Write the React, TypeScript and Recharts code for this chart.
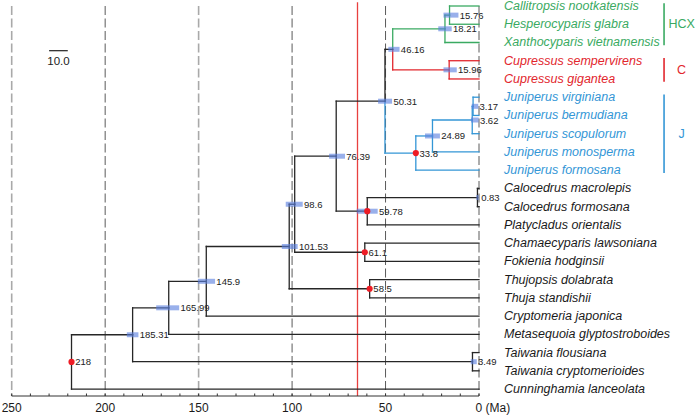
import React from "react"
import { ComposedChart, XAxis, YAxis, Scatter, ReferenceLine, ReferenceDot } from "recharts"

// tips, top to bottom
const taxa = [
  "Callitropsis nootkatensis",
  "Hesperocyparis glabra",
  "Xanthocyparis vietnamensis",
  "Cupressus sempervirens",
  "Cupressus gigantea",
  "Juniperus virginiana",
  "Juniperus bermudiana",
  "Juniperus scopulorum",
  "Juniperus monosperma",
  "Juniperus formosana",
  "Calocedrus macrolepis",
  "Calocedrus formosana",
  "Platycladus orientalis",
  "Chamaecyparis lawsoniana",
  "Fokienia hodginsii",
  "Thujopsis dolabrata",
  "Thuja standishii",
  "Cryptomeria japonica",
  "Metasequoia glyptostroboides",
  "Taiwania flousiana",
  "Taiwania cryptomerioides",
  "Cunninghamia lanceolata",
]
const taxonClade = ["HCX", "HCX", "HCX", "C", "C", "J", "J", "J", "J", "J", "", "", "", "", "", "", "", "", "", "", "", ""]

const clades = ["HCX", "C", "J"]
const cladeColors = ["#3aaa62", "#e2262d", "#3396d6"]

// internal nodes, children listed before parents (numbers = tip index)
const nodeIds = ["a", "b", "c", "d", "e", "f", "g", "h", "i", "j", "k", "l", "m", "n", "o", "p", "q", "r", "s", "t", "u"]
const nodeAges = [15.76, 18.21, 15.96, 46.16, 3.17, 3.62, 24.89, 33.8, 50.31, 0.83, 59.78, 76.39, 61.1, 98.6, 58.5, 101.53, 145.9, 165.99, 3.49, 185.31, 218]
const nodeKids: (number | string)[][] = [
  [0, 1], ["a", 2], [3, 4], ["b", "c"], [5, 6], ["e", 7], ["f", 8], ["g", 9], ["d", "h"],
  [10, 11], ["j", 12], ["i", "k"], [13, 14], ["l", "m"], [15, 16], ["n", "o"], ["p", 17],
  ["q", 18], [19, 20], ["r", "s"], ["t", 21],
]
// 95% HPD interval (older, younger), null where none is drawn
const hpdOld = [19, 21.8, 19, 48.5, 3.9, 4.3, 28.9, null, 54, 1.4, 65.4, 80.2, null, 103.4, null, 105.5, 150.4, 172.7, 4.4, 188.4, null]
const hpdYoung = [11, 14.6, 11.9, 42.5, 0.4, 0.2, 20.9, null, 46.5, 0.2, 54.2, 71.7, null, 94.3, null, 97, 141.2, 160.4, 1.2, 182.2, null]
const calibrated = ["h", "k", "m", "o", "u"]

const xTicks = [250, 240, 230, 220, 210, 200, 190, 180, 170, 160, 150, 140, 130, 120, 110, 100, 90, 80, 70, 60, 50, 40, 30, 20, 10, 0]
const gridAges = [250, 200, 150, 100, 50, 0]
const kpgAge = 65
const scaleBar = 10

const W = 697
const H = 416
const ML = 11.7
const MR = 218
const PX_PER_MA = (W - ML - MR) / 250
const FONT = "'Liberation Sans', Arial, Helvetica, sans-serif"
const BRANCH = "#262626"

const nodeY: Record<string, number> = {}
const yOf = (k: number | string) => (typeof k === "number" ? k : nodeY[k])
nodeIds.forEach((id, i) => {
  nodeY[id] = (yOf(nodeKids[i][0]) + yOf(nodeKids[i][1])) / 2
})
const ageOf = (k: number | string) => (typeof k === "number" ? 0 : nodeAges[nodeIds.indexOf(k)])
const tipsUnder = (k: number | string): number[] =>
  typeof k === "number" ? [k] : nodeKids[nodeIds.indexOf(k)].flatMap(tipsUnder)
const colorOf = (k: number | string) => {
  const set = Array.from(new Set(tipsUnder(k).map((t) => taxonClade[t])))
  if (set.length === 1 && set[0]) return cladeColors[clades.indexOf(set[0])]
  return BRANCH
}

const branches = nodeIds.flatMap((id, i) =>
  nodeKids[i].flatMap((k) => {
    const a = nodeAges[i]
    const y0 = nodeY[id]
    const y1 = yOf(k)
    const c = colorOf(k)
    return [
      { seg: [{ x: a, y: y0 }, { x: a, y: y1 }], c },
      { seg: [{ x: a, y: y1 }, { x: ageOf(k), y: y1 }], c },
    ]
  })
)

const tipData = taxa.map((name, i) => ({
  x: 0,
  y: i,
  name,
  color: taxonClade[i] ? cladeColors[clades.indexOf(taxonClade[i])] : "#1a1a1a",
}))

const nodeLabelData = nodeIds.map((id, i) => ({
  x: nodeAges[i],
  y: nodeY[id],
  text: String(nodeAges[i]),
  dx: Math.max(3.7, hpdYoung[i] != null ? (nodeAges[i] - (hpdYoung[i] as number)) * PX_PER_MA + 1.3 : 0),
}))

const calData = calibrated.map((id) => ({ x: nodeAges[nodeIds.indexOf(id)], y: nodeY[id] }))

const cladeSpans = clades.map((c) => {
  const idx = taxonClade.map((t, i) => (t === c ? i : -1)).filter((i) => i >= 0)
  return { c, top: idx[0] - 0.15, bottom: idx[idx.length - 1] + 0.15 }
})

const AgeTick = (props: any) => {
  const { x, y, payload } = props
  const v = payload.value
  return (
    <g>
      <line x1={x} x2={x} y1={y} y2={y - 2.5} stroke="#333" />
      {v % 50 === 0 && (
        <text
          x={v === 0 ? x - 3.5 : x}
          y={y + 12}
          textAnchor={v === 0 ? "start" : "middle"}
          dominantBaseline="central"
          fontSize={12}
          fontFamily={FONT}
          fill="#1a1a1a"
        >
          {v === 0 ? "0 (Ma)" : v}
        </text>
      )}
    </g>
  )
}

const TipLabel = (p: any) => (
  <text x={p.cx + 25} y={p.cy} dominantBaseline="central" fontSize={12.5} fontStyle="italic" fontFamily={FONT} fill={p.payload.color}>
    {p.payload.name}
  </text>
)

const NodeLabel = (p: any) => (
  <text x={p.cx + p.payload.dx} y={p.cy} dominantBaseline="central" fontSize={9.5} fontFamily={FONT} fill="#222">
    {p.payload.text}
  </text>
)

const CalDot = (p: any) => <circle cx={p.cx} cy={p.cy} r={3.1} fill="#ee1c25" />

export default function App() {
  return (
    <div style={{ position: "absolute", left: 0, top: 0, width: W, height: H, background: "#fff" }}>
      <ComposedChart width={W} height={H} margin={{ top: 0, right: MR, bottom: 0, left: ML }}>
        <XAxis
          type="number"
          dataKey="x"
          domain={[0, 250]}
          reversed
          ticks={xTicks}
          interval={0}
          tickSize={0}
          tickMargin={0}
          tickLine={false}
          axisLine={{ stroke: "#333" }}
          tick={<AgeTick />}
          height={20}
        />
        <YAxis type="number" dataKey="y" domain={[-0.329, 21.38]} reversed hide />

        {gridAges.map((g) => {
          const light = g === 250 || g === 150
          return (
            <ReferenceLine
              key={`g${g}`}
              segment={[{ x: g, y: 0 }, { x: g, y: 21.38 }]}
              stroke={light ? "#a9a9a9" : "#5a5a5a"}
              strokeWidth={light ? 1.6 : 1}
              strokeDasharray="9 3.5"
            />
          )
        })}
        <ReferenceLine segment={[{ x: kpgAge, y: -0.2 }, { x: kpgAge, y: 21.38 }]} stroke="#e8403f" strokeWidth={1.3} />

        {branches.map((b, i) => (
          <ReferenceLine key={`b${i}`} segment={b.seg} stroke={b.c} strokeWidth={1.3} strokeLinecap="square" />
        ))}

        {nodeIds.map((id, i) =>
          hpdOld[i] != null ? (
            <ReferenceLine
              key={`h${id}`}
              segment={[{ x: hpdOld[i] as number, y: nodeY[id] }, { x: hpdYoung[i] as number, y: nodeY[id] }]}
              stroke="rgb(90,128,222)"
              strokeOpacity={0.62}
              strokeWidth={5}
            />
          ) : null
        )}

        <ReferenceLine segment={[{ x: 230, y: 2.45 }, { x: 230 - scaleBar, y: 2.45 }]} stroke="#222" strokeWidth={1.2} />
        <ReferenceDot
          x={230 - scaleBar / 2}
          y={3.04}
          r={0}
          shape={(p: any) => (
            <text x={p.cx} y={p.cy} textAnchor="middle" dominantBaseline="central" fontSize={11.5} fontFamily={FONT} fill="#222">
              {scaleBar.toFixed(1)}
            </text>
          )}
        />

        {cladeSpans.map((s, i) => (
          <ReferenceLine
            key={`c${s.c}`}
            segment={[{ x: -99, y: s.top }, { x: -99, y: s.bottom }]}
            stroke={cladeColors[i]}
            strokeWidth={1.6}
            ifOverflow="visible"
          />
        ))}
        {cladeSpans.map((s, i) => (
          <ReferenceDot
            key={`cl${s.c}`}
            x={-108.4}
            y={(s.top + s.bottom) / 2}
            r={0}
            ifOverflow="visible"
            shape={(p: any) => (
              <text x={p.cx} y={p.cy} textAnchor="middle" dominantBaseline="central" fontSize={12.5} fontFamily={FONT} fill={cladeColors[i]}>
                {s.c}
              </text>
            )}
          />
        ))}

        <Scatter data={nodeLabelData} shape={<NodeLabel />} isAnimationActive={false} />
        <Scatter data={calData} shape={<CalDot />} isAnimationActive={false} />
        <Scatter data={tipData} shape={<TipLabel />} isAnimationActive={false} />
      </ComposedChart>
    </div>
  )
}
